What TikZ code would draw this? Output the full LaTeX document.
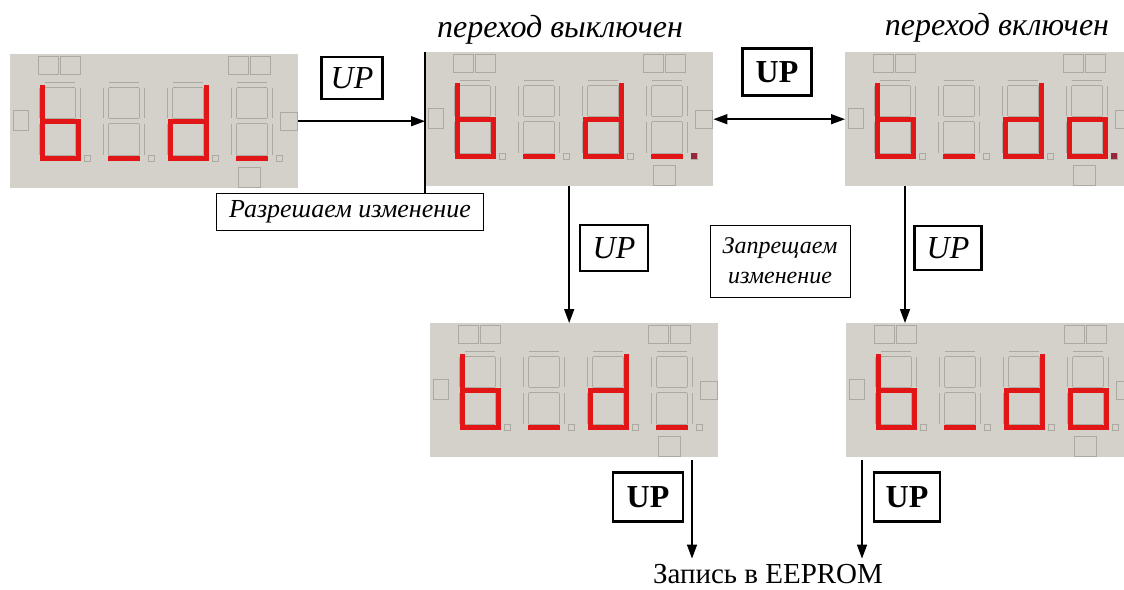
\documentclass[tikz,border=0pt]{standalone}
\usepackage{fontspec}
\setmainfont{Liberation Serif}
\usetikzlibrary{arrows.meta,calc}
\definecolor{dbg}{RGB}{212,209,202}
\definecolor{sline}{RGB}{172,169,162}
\definecolor{segred}{RGB}{226,22,22}
\definecolor{dpred}{RGB}{150,40,60}
\tikzset{
  disp/.style={fill=dbg, inner sep=0pt, minimum width=288pt, minimum height=134pt, anchor=north west, draw=none},
  lit/.style={draw=segred, line width=5pt, line cap=butt, line join=miter},
  unlit/.style={draw=sline, line width=0.6pt, double=dbg, double distance=4pt},
  frm/.style={draw=sline, line width=0.6pt},
  upbox/.style={draw, line width=2.7pt, inner sep=0pt, font=\fontsize{32}{36}\selectfont},
  lbox/.style={draw, line width=1pt, inner sep=3pt, font=\fontsize{24}{30}\selectfont\itshape, align=center},
  arr/.style={line width=1.5pt, -{Triangle[length=14pt,width=10pt]}},
  arrboth/.style={line width=1.5pt, {Triangle[length=14pt,width=10pt]}-{Triangle[length=14pt,width=10pt]}},
  ttl/.style={font=\fontsize{32}{36}\selectfont\itshape, inner sep=0pt, anchor=base},
}
% unlit segment outlines (local coords, digit left edge #1)
\newcommand\uA[1]{(#1+3,31)--(#1+33,31)}
\newcommand\uB[1]{(#1+36,34)--(#1+36,64)}
\newcommand\uC[1]{(#1+36,70)--(#1+36,101)}
\newcommand\uD[1]{(#1+3,104)--(#1+33,104)}
\newcommand\uE[1]{(#1,70)--(#1,101)}
\newcommand\uF[1]{(#1,34)--(#1,64)}
\newcommand\uG[1]{(#1+3,67)--(#1+33,67)}
\newcommand\dispdeco{%
  \foreach \X in {32,96,160,224}{
    \draw[unlit] \uA{\X} \uB{\X} \uC{\X} \uD{\X} \uE{\X} \uF{\X} \uG{\X};
    \draw[frm] (\X+42,101) rectangle (\X+48,107);
  }
  \draw[frm] (28,2) rectangle (48,20) (50,2) rectangle (70,20)
             (218,2) rectangle (238,20) (240,2) rectangle (260,20)
             (3,56) rectangle (18,76) (270,58) rectangle (287,76)
             (228,113) rectangle (250,133);
}
\newcommand\litb[1]{\draw[lit] (#1,31)--(#1,104)--(#1+36,104)--(#1+36,67)--(#1,67);}
\newcommand\litd[1]{\draw[lit] (#1+36,31)--(#1+36,104)--(#1,104)--(#1,67)--(#1+36,67);}
\newcommand\litu[1]{\draw[lit] (#1+2,104)--(#1+34,104);}
\newcommand\lito[1]{\draw[lit] (#1,67) rectangle (#1+36,104);}
\newcommand\litdp{\fill[dpred] (266,101) rectangle (272,107);}
\begin{document}
\begin{tikzpicture}[x=1pt,y=-1pt]
\useasboundingbox (0,0) rectangle (1124,589);
% displays
\node[disp] (d1) at (10,54) {};
\node[disp] (d2) at (425,52) {};
\node[disp] (d3) at (845,52) {};
\node[disp] (d4) at (430,323) {};
\node[disp] (d5) at (846,323) {};
\begin{scope}[shift={(d1.north west)}]\dispdeco\litb{32}\litu{96}\litd{160}\litu{224}\end{scope}
\begin{scope}[shift={(d2.north west)}]\dispdeco\litb{32}\litu{96}\litd{160}\litu{224}\litdp\end{scope}
\begin{scope}[shift={(d3.north west)}]\dispdeco\litb{32}\litu{96}\litd{160}\lito{224}\litdp\end{scope}
\begin{scope}[shift={(d4.north west)}]\dispdeco\litb{32}\litu{96}\litd{160}\litu{224}\end{scope}
\begin{scope}[shift={(d5.north west)}]\dispdeco\litb{32}\litu{96}\litd{160}\lito{224}\end{scope}
% titles
\node[ttl] (t1) at (560,37) {переход выключен};
\node[ttl] (t2) at (997,35) {переход включен};
% boxes
\node[upbox, minimum width=61pt, minimum height=42pt] (u1) at (352,78) {\itshape UP};
\node[upbox, minimum width=69pt, minimum height=47pt] (u2) at (777,72) {\bfseries UP};
\node[upbox, minimum width=68pt, minimum height=46pt] (u3) at (614,248) {\itshape UP};
\node[upbox, minimum width=67pt, minimum height=44pt] (u4) at (948,248) {\itshape UP};
\node[upbox, minimum width=70pt, minimum height=49pt] (u5) at (648,497) {\bfseries UP};
\node[upbox, minimum width=66pt, minimum height=49pt] (u6) at (907,497) {\bfseries UP};
\node[lbox, minimum width=267pt, minimum height=37pt, font=\fontsize{26}{30}\selectfont\itshape] (rz) at (350,211.5) {Разрешаем изменение};
\node[lbox, minimum width=140pt, minimum height=72pt] (zp) at (780,261) {Запрещаем\\изменение};
\node[font=\fontsize{29}{34}\selectfont, inner sep=0pt, anchor=base] (ee) at (768,583) {Запись в EEPROM};
% connectors
\draw[arr] (d1.east) -- (d1.east -| d2.west);
\draw[arrboth] (d2.east) -- (d3.west);
\draw[arr] (d2.south) -- (d2.south |- d4.north);
\coordinate (c3) at ($(d3.south west)+(60,0)$);
\draw[arr] (c3) -- (c3 |- d5.north);
\draw[line width=1.5pt] (d2.north west) -- (d2.north west |- rz.north);
\coordinate (c4) at ($(d4.south west)+(262,3)$);
\coordinate (c5) at ($(d5.south west)+(16,3)$);
\coordinate (e4) at ($(c4 |- ee.north)+(0,-5)$);
\coordinate (e5) at ($(c5 |- ee.north)+(0,-5)$);
\draw[arr] (c4) -- (e4);
\draw[arr] (c5) -- (e5);
\end{tikzpicture}
\end{document}
